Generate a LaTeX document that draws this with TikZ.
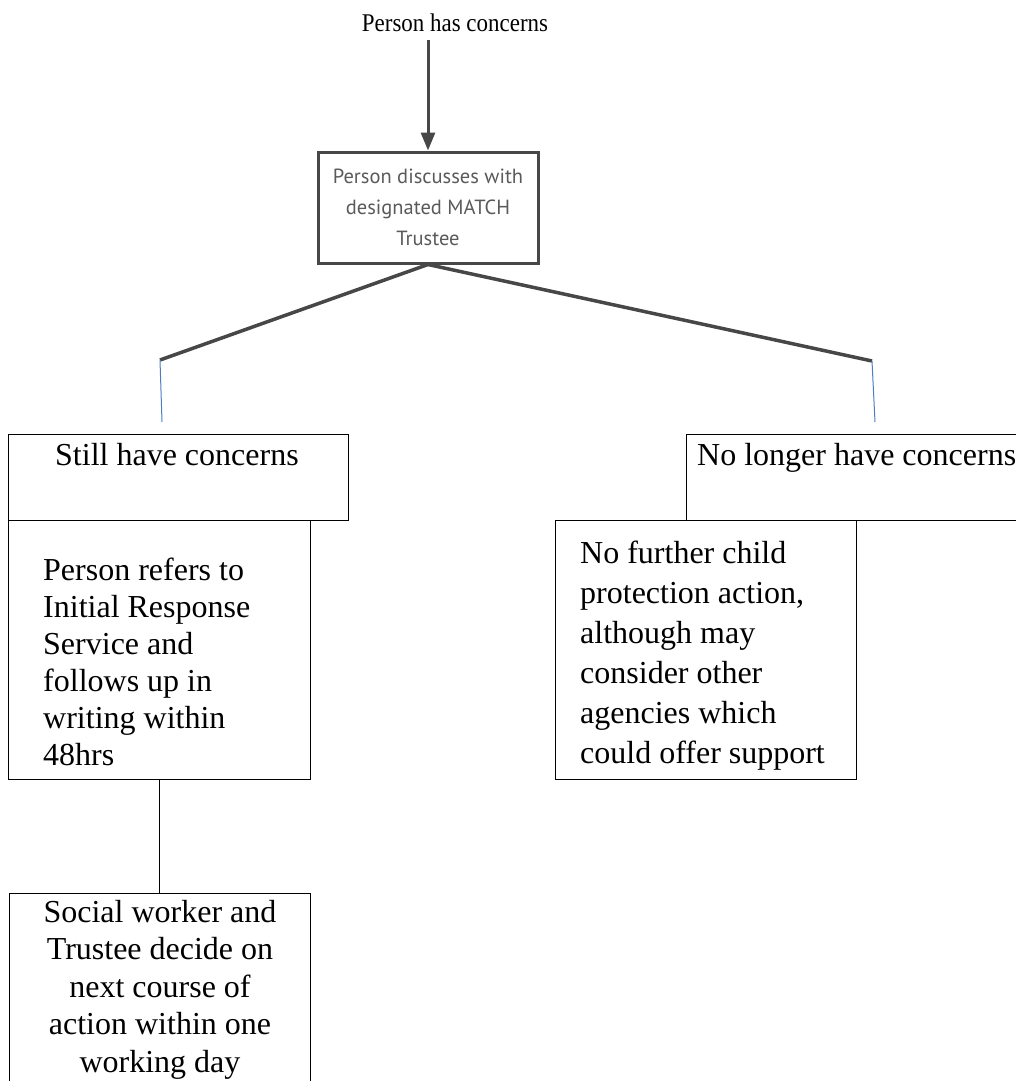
\documentclass[tikz,border=0pt]{standalone}
\usepackage{fontspec}
\setmainfont{Liberation Serif}
\newfontfamily\ptsans{PT Sans}
\usetikzlibrary{arrows.meta}
\definecolor{dgray}{HTML}{474747}
\definecolor{tgray}{HTML}{5A5A5A}
\definecolor{lblue}{HTML}{4F7DC0}
\begin{document}
\begin{tikzpicture}[x=1pt,y=-1pt,
  box/.style={draw=black,line width=1pt,inner sep=0pt,anchor=north west},
  txt/.style={inner sep=0pt,align=left,font=\fontsize{32}{37}\selectfont},
  thick/.style={draw=dgray,line width=3.5pt}]
\useasboundingbox (0,0) rectangle (1016,1081);
\clip (0,0) rectangle (1016,1081);
% boxes
\node[box,minimum width=340pt,minimum height=86pt] (still) at (8,434) {};
\node[box,minimum width=302pt,minimum height=259pt] (refers) at (8,520) {};
\node[box,minimum width=301pt,minimum height=250pt] (social) at (9,893) {};
\node[box,minimum width=420pt,minimum height=86pt] (nolonger) at (686,434) {};
\node[box,minimum width=301pt,minimum height=259pt] (nofurther) at (555,520) {};
\node[draw=dgray,line width=3pt,minimum width=220pt,minimum height=111pt,inner sep=0pt,
      text=tgray,align=center,font=\ptsans\fontsize{20.5}{31}\selectfont] (trustee) at (428,207.5)
      {\rule{0pt}{6pt}Person discusses with\\designated MATCH\\Trustee};
% texts
\node[inner sep=0pt,anchor=base,font=\fontsize{25.5}{30}\selectfont] (person) at (455,32) {\scalebox{0.9}[1]{Person has concerns}};
\node[txt,anchor=base west] (stilltxt) at (55,465) {Still have concerns};
\node[txt,anchor=base west] (nolongertxt) at (697,465) {No longer have concerns};
\node[txt,anchor=north west] (referstxt) at (43,558)
  {Person refers to\\Initial Response\\Service and\\follows up in\\writing within\\48hrs};
\node[txt,anchor=north west,font=\fontsize{32}{40}\selectfont] (nofurthertxt) at (580,541)
  {No further child\\protection action,\\although may\\consider other\\agencies which\\could offer support};
\node[txt,anchor=north,align=center,font=\fontsize{32}{37.5}\selectfont] (socialtxt) at (160,900)
  {Social worker and\\Trustee decide on\\next course of\\action within one\\working day};
% connectors
\coordinate (L) at (160,360);
\coordinate (R) at (872,361);
\coordinate (Lb) at (162,422);
\coordinate (Rb) at (875,422);
\draw[draw=dgray,line width=3pt,-{Triangle[length=18pt,width=14pt]}] (428,40) -- (trustee.north);
\draw[thick] (trustee.south) -- (L);
\draw[thick] (trustee.south) -- (R);
\draw[lblue,line width=1pt] (L) -- (Lb);
\draw[lblue,line width=1pt] (R) -- (Rb);
\draw[line width=1pt] (refers.south -| 159,0) -- (social.north -| 159,0);
\end{tikzpicture}
\end{document}
